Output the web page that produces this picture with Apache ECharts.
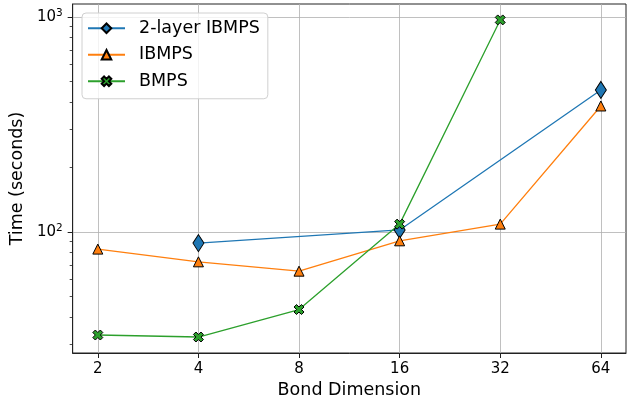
<!DOCTYPE html>
<html>
<head>
<meta charset="utf-8">
<script src="https://cdn.jsdelivr.net/npm/echarts@6/dist/echarts.min.js"></script>
<style>
  html, body { margin: 0; padding: 0; background: #fff; }
  #chart { width: 636px; height: 406px; }
</style>
</head>
<body>
<div id="chart"></div>
<script>
// ---- data ----
const bondDims = [2, 4, 8, 16, 32, 64];
const twoLayerX = [4, 16, 64];
const twoLayerTime = [88.6, 102, 457];
const ibmpsX = [2, 4, 8, 16, 32, 64];
const ibmpsTime = [83.1, 72.5, 65.6, 90.8, 108.6, 385];
const bmpsX = [2, 4, 8, 16, 32];
const bmpsTime = [33.1, 32.4, 43.5, 108.6, 968];
const yMajorTicks = [100, 1000];
const yMinorTicks = [30, 40, 50, 60, 70, 80, 90, 200, 300, 400, 500, 600, 700, 800, 900];
const seriesNames = ['2-layer IBMPS', 'IBMPS', 'BMPS'];

const font = 'DejaVu Sans';
const pairs = (xs, ys) => xs.map((x, i) => [x, ys[i]]);
const xPath = 'path://M-1,-2L0,-1L1,-2L2,-1L1,0L2,1L1,2L0,1L-1,2L-2,1L-1,0L-2,-1Z';

const chart = echarts.init(document.getElementById('chart'), null, { renderer: 'canvas' });

const gridDef = { left: 72, right: 10, top: 4, bottom: 53, show: true, borderColor: '#222', borderWidth: 1, backgroundColor: 'transparent' };

const option = {
  animation: false,
  backgroundColor: '#fff',
  textStyle: { fontFamily: font },
  grid: gridDef,
  legend: {
    left: 82, top: 13, orient: 'vertical',
    itemWidth: 37, itemHeight: 12, itemGap: 8.5,
    padding: [6.25, 8, 8.5, 5],
    backgroundColor: 'rgba(255,255,255,0.8)',
    borderColor: '#d0d0d0', borderWidth: 1, borderRadius: 4,
    textStyle: { fontFamily: font, fontSize: 17.5, color: '#000', padding: [0, 0, 0, 9] },
    data: seriesNames
  },
  xAxis: {
    type: 'log', logBase: 2,
    min: Math.pow(2, 0.75), max: Math.pow(2, 6.25),
    name: 'Bond Dimension', nameLocation: 'middle', nameGap: 28,
    nameTextStyle: { fontFamily: font, fontSize: 17.5, color: '#000' },
    axisLine: { show: true, lineStyle: { color: '#222', width: 1 } },
    axisTick: { show: true, length: 5, customValues: bondDims, lineStyle: { color: '#222', width: 1 } },
    axisLabel: { show: true, customValues: bondDims, margin: 9, fontFamily: font, fontSize: 15, color: '#000',
      formatter: v => String(Math.round(v)) },
    splitLine: { show: true, lineStyle: { color: '#b0b0b0', width: 0.8 } },
    minorTick: { show: false }
  },
  yAxis: [{
    type: 'log', logBase: 10,
    min: 27.3, max: 1148,
    name: 'Time (seconds)', nameLocation: 'middle', nameGap: 41,
    nameTextStyle: { fontFamily: font, fontSize: 17.5, color: '#000' },
    axisLine: { show: true, lineStyle: { color: '#222', width: 1 } },
    axisTick: { show: true, length: 5, customValues: yMajorTicks, lineStyle: { color: '#222', width: 1 } },
    axisLabel: {
      show: true, customValues: yMajorTicks, margin: 10, color: '#000',
      formatter: v => '{b|10}{s|' + Math.round(Math.log10(v)) + '}',
      rich: {
        b: { fontFamily: font, fontSize: 15, color: '#000', lineHeight: 18 },
        s: { fontFamily: font, fontSize: 10.5, color: '#000', lineHeight: 12, verticalAlign: 'top' }
      }
    },
    splitLine: { show: true, lineStyle: { color: '#b0b0b0', width: 0.8 } }
  }, {
    type: 'log', logBase: 10,
    min: 27.3, max: 1148, position: 'left',
    axisLine: { show: false },
    axisTick: { show: true, length: 3, customValues: yMinorTicks, lineStyle: { color: '#222', width: 0.8 } },
    axisLabel: { show: false },
    splitLine: { show: false }
  }],
  series: [
    {
      name: seriesNames[0], type: 'line', data: pairs(twoLayerX, twoLayerTime),
      symbol: 'diamond', symbolSize: [11, 17],
      lineStyle: { color: '#1f77b4', width: 1.3 },
      itemStyle: { color: '#1f77b4', borderColor: '#000', borderWidth: 1 },
      emphasis: { disabled: true }
    },
    {
      name: seriesNames[1], type: 'line', data: pairs(ibmpsX, ibmpsTime),
      symbol: 'triangle', symbolSize: [10, 10],
      lineStyle: { color: '#ff7f0e', width: 1.3 },
      itemStyle: { color: '#ff7f0e', borderColor: '#000', borderWidth: 1 },
      emphasis: { disabled: true }
    },
    {
      name: seriesNames[2], type: 'line', data: pairs(bmpsX, bmpsTime),
      symbol: xPath, symbolSize: [10, 10],
      lineStyle: { color: '#2ca02c', width: 1.3 },
      itemStyle: { color: '#2ca02c', borderColor: '#000', borderWidth: 1 },
      emphasis: { disabled: true }
    }
  ]
};
chart.setOption(option);
</script>
</body>
</html>
